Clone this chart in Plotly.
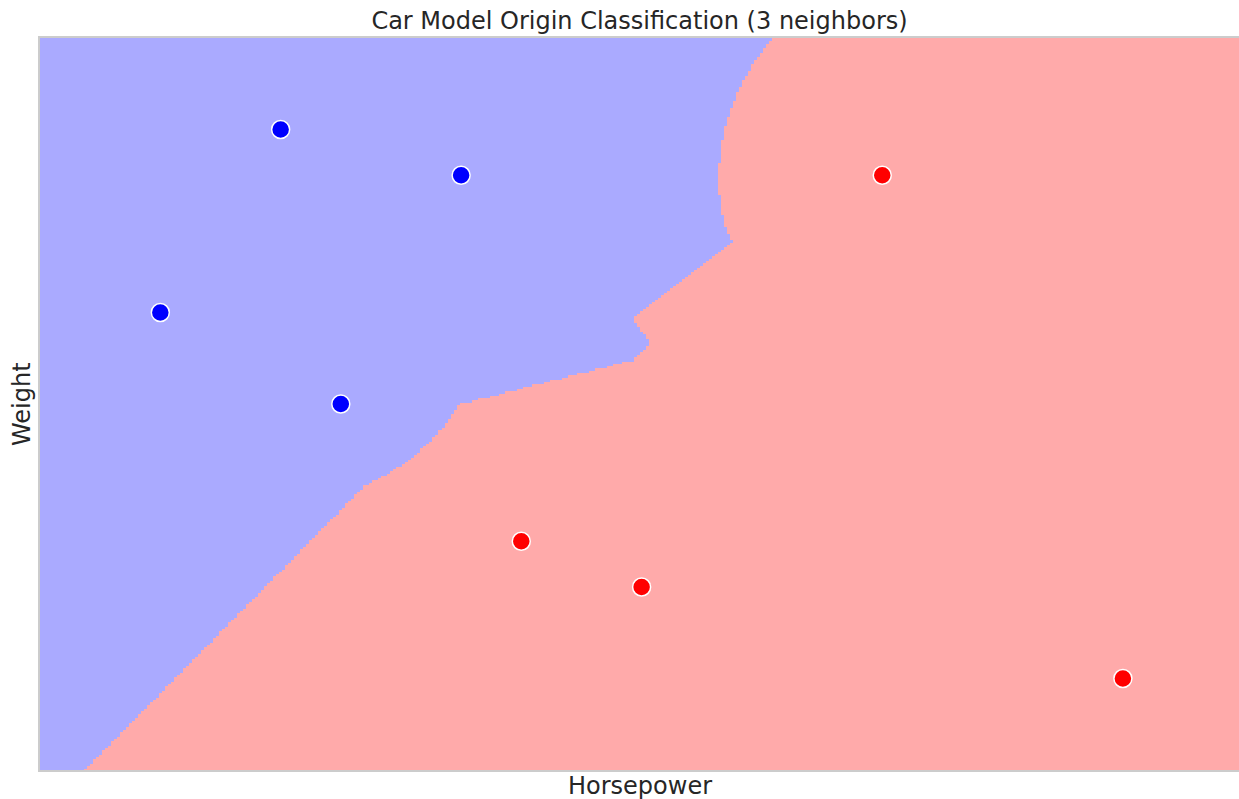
import numpy as np
import plotly.graph_objects as go

# Data (horsepower, weight in plot units), class 0 = blue, 1 = red
horsepower = [4, 7, 2, 5, 14, 8, 10, 18]
weight = [14, 13, 10, 8, 13, 5, 4, 2]
origin = [0, 0, 0, 0, 1, 1, 1, 1]
n_neighbors = 3

X = np.array(horsepower, dtype=float)
Y = np.array(weight, dtype=float)
C = np.array(origin)

x_min, x_max = X.min() - 2, X.max() + 2
y_min, y_max = Y.min() - 2, Y.max() + 2
h = 0.05
xx = np.arange(x_min, x_max + h, h)
yy = np.arange(y_min, y_max + h, h)
GX, GY = np.meshgrid(xx, yy)

# distance-weighted k-NN
d = np.sqrt((GX[..., None] - X) ** 2 + (GY[..., None] - Y) ** 2)
idx = np.argsort(d, axis=-1)[..., :n_neighbors]
dk = np.take_along_axis(d, idx, axis=-1)
ck = C[idx]
w = 1.0 / np.maximum(dk, 1e-9)
score_red = (w * (ck == 1)).sum(-1)
score_blue = (w * (ck == 0)).sum(-1)
Z = (score_red > score_blue).astype(int)

fig = go.Figure()
fig.add_trace(go.Heatmap(
    x=xx, y=yy, z=Z, zmin=0, zmax=1, zsmooth=False,
    colorscale=[[0, "#AAAAFF"], [0.5, "#AAAAFF"], [0.5, "#FFAAAA"], [1, "#FFAAAA"]],
    showscale=False, hoverinfo="skip"))

colors = ["#0000FF" if c == 0 else "#FF0000" for c in origin]
fig.add_trace(go.Scatter(
    x=horsepower, y=weight, mode="markers",
    marker=dict(size=18, color=colors, line=dict(color="white", width=1.5)),
    showlegend=False))

textc = "#262626"
W, H = 1239, 799
ml, mr, mt, mb = 40, 0, 38, 29
pw, ph = W - ml - mr, H - mt - mb
fig.update_layout(
    width=W, height=H,
    margin=dict(l=ml, r=mr, t=mt, b=mb),
    paper_bgcolor="white", plot_bgcolor="white",
    font=dict(family="DejaVu Sans", color=textc, size=24),
    title=dict(text="Car Model Origin Classification (3 neighbors)",
               x=(ml + pw / 2) / W, xanchor="center", y=1 - 21 / H, yanchor="middle",
               font=dict(size=24, color=textc)),
    xaxis=dict(range=[0, 19.93], showticklabels=False, ticks="", showgrid=False, zeroline=False,
               showline=True, mirror=True, linecolor="#cccccc", linewidth=2),
    yaxis=dict(range=[0, 16], showticklabels=False, ticks="", showgrid=False, zeroline=False,
               showline=True, linecolor="#cccccc", linewidth=2),
    annotations=[
        dict(text="Horsepower", xref="paper", yref="paper", x=0.5, y=-16 / ph,
             xanchor="center", yanchor="middle", showarrow=False, font=dict(size=24, color=textc)),
        dict(text="Weight", xref="paper", yref="paper", x=-18 / pw, y=0.5, textangle=-90,
             xanchor="center", yanchor="middle", showarrow=False, font=dict(size=24, color=textc)),
    ],
)

fig.write_html("out.html", config={"displayModeBar": False})

# remove default page margin / scrollbars so the figure fills the window exactly
with open("out.html", encoding="utf-8") as f:
    html = f.read()
html = html.replace("<head>", "<head><style>html,body{margin:0;padding:0;overflow:hidden;}</style>", 1)
with open("out.html", "w", encoding="utf-8") as f:
    f.write(html)
